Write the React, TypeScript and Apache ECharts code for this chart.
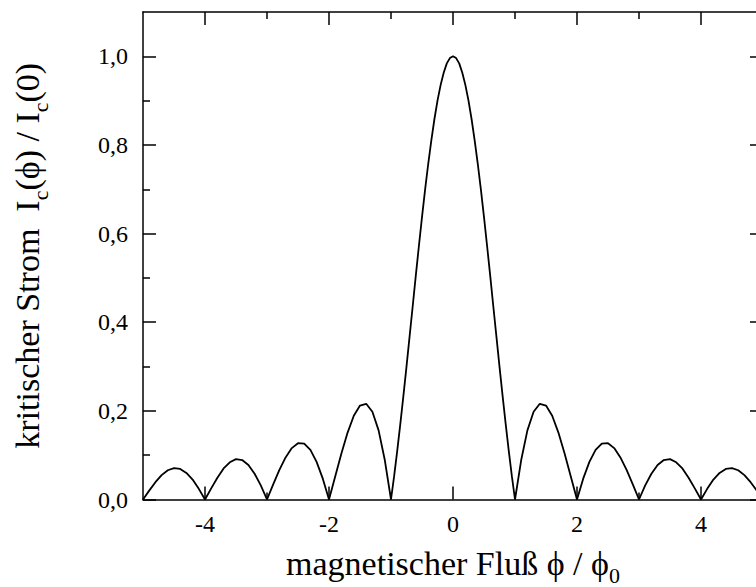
import React, { useEffect, useRef } from "react";
import * as echarts from "echarts";

// magnetic flux phi/phi0 (x) and normalized critical current Ic(phi)/Ic(0) (y)
const flux: number[] = [
  -5.0, -4.9, -4.8, -4.7, -4.6, -4.5, -4.4, -4.3, -4.2, -4.1,
  -4.0, -3.9, -3.8, -3.7, -3.6, -3.5, -3.4, -3.3, -3.2, -3.1,
  -3.0, -2.9, -2.8, -2.7, -2.6, -2.5, -2.4, -2.3, -2.2, -2.1,
  -2.0, -1.9, -1.8, -1.7, -1.6, -1.5, -1.4, -1.3, -1.2, -1.1,
  -1.0, -0.95, -0.9, -0.85, -0.8, -0.75, -0.7, -0.65, -0.6, -0.55,
  -0.5, -0.45, -0.4, -0.35, -0.3, -0.25, -0.2, -0.15, -0.1, -0.05,
  0.0, 0.05, 0.1, 0.15, 0.2, 0.25, 0.3, 0.35, 0.4, 0.45,
  0.5, 0.55, 0.6, 0.65, 0.7, 0.75, 0.8, 0.85, 0.9, 0.95,
  1.0, 1.1, 1.2, 1.3, 1.4, 1.5, 1.6, 1.7, 1.8, 1.9,
  2.0, 2.1, 2.2, 2.3, 2.4, 2.5, 2.6, 2.7, 2.8, 2.9,
  3.0, 3.1, 3.2, 3.3, 3.4, 3.5, 3.6, 3.7, 3.8, 3.9,
  4.0, 4.1, 4.2, 4.3, 4.4, 4.5, 4.6, 4.7, 4.8, 4.9,
  5.0,
];
const current: number[] = [
  0.0, 0.020, 0.039, 0.055, 0.066, 0.071, 0.069, 0.060, 0.045, 0.024,
  0.0, 0.025, 0.049, 0.070, 0.084, 0.091, 0.089, 0.078, 0.058, 0.032,
  0.0, 0.034, 0.067, 0.095, 0.116, 0.127, 0.126, 0.112, 0.085, 0.047,
  0.0, 0.052, 0.104, 0.151, 0.189, 0.212, 0.216, 0.198, 0.156, 0.089,
  0.0, 0.052, 0.109, 0.170, 0.234, 0.300, 0.368, 0.436, 0.505, 0.572,
  0.637, 0.699, 0.757, 0.810, 0.858, 0.900, 0.935, 0.963, 0.984, 0.996,
  1.0, 0.996, 0.984, 0.963, 0.935, 0.900, 0.858, 0.810, 0.757, 0.699,
  0.637, 0.572, 0.505, 0.436, 0.368, 0.300, 0.234, 0.170, 0.109, 0.052,
  0.0, 0.089, 0.156, 0.198, 0.216, 0.212, 0.189, 0.151, 0.104, 0.052,
  0.0, 0.047, 0.085, 0.112, 0.126, 0.127, 0.116, 0.095, 0.067, 0.034,
  0.0, 0.032, 0.058, 0.078, 0.089, 0.091, 0.084, 0.070, 0.049, 0.025,
  0.0, 0.024, 0.045, 0.060, 0.069, 0.071, 0.066, 0.055, 0.039, 0.020,
  0.0,
];

const xMajorTicks: number[] = [-4, -2, 0, 2, 4];
const xMinorTicks: number[] = [-3, -1, 1, 3];
const yMajorTicks: number[] = [0, 0.2, 0.4, 0.6, 0.8, 1.0];
const yMinorTicks: number[] = [0.1, 0.3, 0.5, 0.7, 0.9];

const xTitle = "magnetischer Fluß ϕ / ϕ{sub|0}";
const yTitle = "kritischer Strom  I{sub|c}(ϕ) / I{sub|c}(0)";

const FONT = "'Liberation Serif', 'Times New Roman', 'DejaVu Serif', serif";
const BLACK = "#000";

export default function App() {
  const ref = useRef<HTMLDivElement>(null);

  useEffect(() => {
    if (!ref.current) return;
    const chart = echarts.init(ref.current, undefined, { renderer: "svg" });

    const gridRect = {
      left: 143,
      right: 17,
      top: 12,
      bottom: 87.5,
      containLabel: false,
      outerBoundsMode: "none",
    };
    const lineStyle = { color: BLACK, width: 1.5 };

    const xBase = { type: "value" as const, min: -5, max: 5, splitLine: { show: false } };
    const yBase = { type: "value" as const, min: 0, max: 1.1, splitLine: { show: false } };

    const titleRich = {
      sub: { fontFamily: FONT, fontSize: 22, lineHeight: 4, verticalAlign: "bottom", color: BLACK },
    };

    chart.setOption({
      animation: false,
      backgroundColor: "#fff",
      grid: [gridRect, { ...gridRect }],
      xAxis: [
        {
          ...xBase,
          gridIndex: 0,
          position: "bottom",
          axisLine: { show: true, onZero: false, lineStyle },
          axisTick: { show: true, inside: true, length: 13, lineStyle, customValues: xMajorTicks },
          axisLabel: {
            show: true,
            customValues: xMajorTicks,
            formatter: (v: number) => String(v),
            fontFamily: FONT,
            fontSize: 24,
            lineHeight: 24,
            color: BLACK,
            margin: 12,
          },
          name: xTitle,
          nameLocation: "middle",
          nameGap: 39,
          nameTextStyle: {
            fontFamily: FONT,
            fontSize: 34,
            lineHeight: 46,
            color: BLACK,
            rich: titleRich,
          },
        },
        {
          ...xBase,
          gridIndex: 0,
          position: "top",
          axisLine: { show: true, onZero: false, lineStyle },
          axisTick: { show: true, inside: true, length: 13, lineStyle, customValues: xMajorTicks },
          axisLabel: { show: false },
        },
        {
          ...xBase,
          gridIndex: 1,
          position: "bottom",
          axisLine: { show: false, onZero: false },
          axisTick: { show: true, inside: true, length: 7, lineStyle, customValues: xMinorTicks },
          axisLabel: { show: false },
        },
        {
          ...xBase,
          gridIndex: 1,
          position: "top",
          axisLine: { show: false, onZero: false },
          axisTick: { show: true, inside: true, length: 7, lineStyle, customValues: xMinorTicks },
          axisLabel: { show: false },
        },
      ],
      yAxis: [
        {
          ...yBase,
          gridIndex: 0,
          position: "left",
          axisLine: { show: true, onZero: false, lineStyle },
          axisTick: { show: true, inside: true, length: 13, lineStyle, customValues: yMajorTicks },
          axisLabel: {
            show: true,
            customValues: yMajorTicks,
            formatter: (v: number) => v.toFixed(1).replace(".", ","),
            fontFamily: FONT,
            fontSize: 24,
            lineHeight: 24,
            color: BLACK,
            margin: 15,
          },
          name: yTitle,
          nameLocation: "middle",
          nameRotate: 90,
          nameGap: 92,
          nameTextStyle: {
            fontFamily: FONT,
            fontSize: 34,
            lineHeight: 48,
            color: BLACK,
            rich: titleRich,
          },
        },
        {
          ...yBase,
          gridIndex: 0,
          position: "right",
          axisLine: { show: true, onZero: false, lineStyle },
          axisTick: { show: true, inside: true, length: 13, lineStyle, customValues: yMajorTicks },
          axisLabel: { show: false },
        },
        {
          ...yBase,
          gridIndex: 1,
          position: "left",
          axisLine: { show: false, onZero: false },
          axisTick: { show: true, inside: true, length: 7, lineStyle, customValues: yMinorTicks },
          axisLabel: { show: false },
        },
        {
          ...yBase,
          gridIndex: 1,
          position: "right",
          axisLine: { show: false, onZero: false },
          axisTick: { show: true, inside: true, length: 7, lineStyle, customValues: yMinorTicks },
          axisLabel: { show: false },
        },
      ],
      series: [
        {
          type: "line",
          xAxisIndex: 0,
          yAxisIndex: 0,
          data: flux.map((x, i) => [x, current[i]]),
          showSymbol: false,
          symbol: "none",
          smooth: false,
          lineStyle: { color: BLACK, width: 1.8 },
          z: 3,
        },
      ],
    });

    return () => chart.dispose();
  }, []);

  return (
    <div
      style={{
        position: "fixed",
        left: 0,
        top: 0,
        width: 756,
        height: 587,
        overflow: "hidden",
        background: "#fff",
      }}
    >
      <div ref={ref} style={{ width: 780, height: 587 }} />
    </div>
  );
}
